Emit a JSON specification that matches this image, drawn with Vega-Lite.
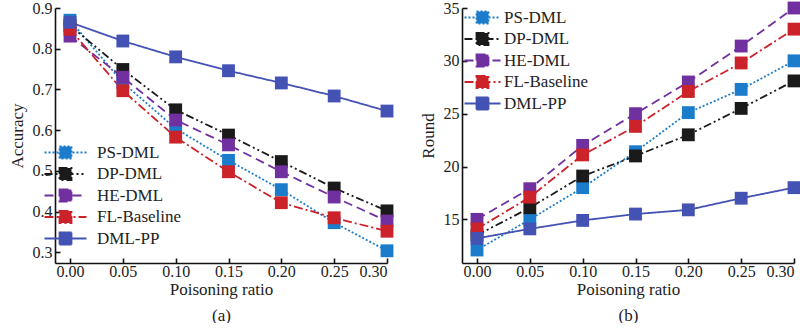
{
  "$schema": "https://vega.github.io/schema/vega-lite/v6.json",
  "autosize": {"type": "pad"},
  "padding": {"left": 8, "top": 0, "right": 0, "bottom": 0},
  "background": "white",
  "config": {
    "font": "Liberation Serif",
    "view": {"stroke": null},
    "axis": {
      "grid": false,
      "domainColor": "#111",
      "domainWidth": 1.6,
      "tickColor": "#111",
      "tickWidth": 1.6,
      "tickSize": -5,
      "labelFont": "Liberation Serif",
      "labelFontSize": 16,
      "labelColor": "#222",
      "titleFont": "Liberation Serif",
      "titleFontSize": 17,
      "titleFontWeight": "normal",
      "titleColor": "#222"
    },
    "axisX": {"labelPadding": 5, "titlePadding": 2, "titleLineHeight": 26},
    "axisY": {"labelPadding": 8, "titlePadding": 6},
    "legend": {
      "orient": "none",
      "title": null,
      "padding": 0,
      "symbolSize": 144,
      "symbolStrokeWidth": 1.8,
      "labelFont": "Liberation Serif",
      "labelFontSize": 17,
      "labelColor": "#222",
      "rowPadding": 0.5
    }
  },
  "datasets": {
    "acc": [
      {"ratio": 0.0, "series": "PS-DML", "value": 0.870},
      {"ratio": 0.05, "series": "PS-DML", "value": 0.717},
      {"ratio": 0.1, "series": "PS-DML", "value": 0.604},
      {"ratio": 0.15, "series": "PS-DML", "value": 0.526},
      {"ratio": 0.2, "series": "PS-DML", "value": 0.454},
      {"ratio": 0.25, "series": "PS-DML", "value": 0.373},
      {"ratio": 0.3, "series": "PS-DML", "value": 0.304},
      {"ratio": 0.0, "series": "DP-DML", "value": 0.857},
      {"ratio": 0.05, "series": "DP-DML", "value": 0.749},
      {"ratio": 0.1, "series": "DP-DML", "value": 0.650},
      {"ratio": 0.15, "series": "DP-DML", "value": 0.588},
      {"ratio": 0.2, "series": "DP-DML", "value": 0.523},
      {"ratio": 0.25, "series": "DP-DML", "value": 0.458},
      {"ratio": 0.3, "series": "DP-DML", "value": 0.402},
      {"ratio": 0.0, "series": "HE-DML", "value": 0.831},
      {"ratio": 0.05, "series": "HE-DML", "value": 0.730},
      {"ratio": 0.1, "series": "HE-DML", "value": 0.625},
      {"ratio": 0.15, "series": "HE-DML", "value": 0.564},
      {"ratio": 0.2, "series": "HE-DML", "value": 0.498},
      {"ratio": 0.25, "series": "HE-DML", "value": 0.436},
      {"ratio": 0.3, "series": "HE-DML", "value": 0.377},
      {"ratio": 0.0, "series": "FL-Baseline", "value": 0.848},
      {"ratio": 0.05, "series": "FL-Baseline", "value": 0.697},
      {"ratio": 0.1, "series": "FL-Baseline", "value": 0.583},
      {"ratio": 0.15, "series": "FL-Baseline", "value": 0.498},
      {"ratio": 0.2, "series": "FL-Baseline", "value": 0.422},
      {"ratio": 0.25, "series": "FL-Baseline", "value": 0.385},
      {"ratio": 0.3, "series": "FL-Baseline", "value": 0.352},
      {"ratio": 0.0, "series": "DML-PP", "value": 0.865},
      {"ratio": 0.05, "series": "DML-PP", "value": 0.819},
      {"ratio": 0.1, "series": "DML-PP", "value": 0.780},
      {"ratio": 0.15, "series": "DML-PP", "value": 0.746},
      {"ratio": 0.2, "series": "DML-PP", "value": 0.716},
      {"ratio": 0.25, "series": "DML-PP", "value": 0.684},
      {"ratio": 0.3, "series": "DML-PP", "value": 0.647}
    ],
    "round": [
      {"ratio": 0.0, "series": "PS-DML", "value": 12.1},
      {"ratio": 0.05, "series": "PS-DML", "value": 15.0},
      {"ratio": 0.1, "series": "PS-DML", "value": 18.0},
      {"ratio": 0.15, "series": "PS-DML", "value": 21.4},
      {"ratio": 0.2, "series": "PS-DML", "value": 25.1},
      {"ratio": 0.25, "series": "PS-DML", "value": 27.3},
      {"ratio": 0.3, "series": "PS-DML", "value": 30.0},
      {"ratio": 0.0, "series": "DP-DML", "value": 13.5},
      {"ratio": 0.05, "series": "DP-DML", "value": 16.1},
      {"ratio": 0.1, "series": "DP-DML", "value": 19.1},
      {"ratio": 0.15, "series": "DP-DML", "value": 21.0},
      {"ratio": 0.2, "series": "DP-DML", "value": 23.0},
      {"ratio": 0.25, "series": "DP-DML", "value": 25.5},
      {"ratio": 0.3, "series": "DP-DML", "value": 28.1},
      {"ratio": 0.0, "series": "HE-DML", "value": 15.0},
      {"ratio": 0.05, "series": "HE-DML", "value": 17.9},
      {"ratio": 0.1, "series": "HE-DML", "value": 22.0},
      {"ratio": 0.15, "series": "HE-DML", "value": 25.0},
      {"ratio": 0.2, "series": "HE-DML", "value": 28.0},
      {"ratio": 0.25, "series": "HE-DML", "value": 31.4},
      {"ratio": 0.3, "series": "HE-DML", "value": 35.0},
      {"ratio": 0.0, "series": "FL-Baseline", "value": 14.1},
      {"ratio": 0.05, "series": "FL-Baseline", "value": 17.1},
      {"ratio": 0.1, "series": "FL-Baseline", "value": 21.1},
      {"ratio": 0.15, "series": "FL-Baseline", "value": 23.8},
      {"ratio": 0.2, "series": "FL-Baseline", "value": 27.1},
      {"ratio": 0.25, "series": "FL-Baseline", "value": 29.8},
      {"ratio": 0.3, "series": "FL-Baseline", "value": 33.0},
      {"ratio": 0.0, "series": "DML-PP", "value": 13.2},
      {"ratio": 0.05, "series": "DML-PP", "value": 14.1},
      {"ratio": 0.1, "series": "DML-PP", "value": 14.9},
      {"ratio": 0.15, "series": "DML-PP", "value": 15.5},
      {"ratio": 0.2, "series": "DML-PP", "value": 15.9},
      {"ratio": 0.25, "series": "DML-PP", "value": 17.0},
      {"ratio": 0.3, "series": "DML-PP", "value": 18.0}
    ]
  },
  "spacing": 75,
  "bounds": "flush",
  "resolve": {"legend": {"color": "independent", "strokeDash": "independent", "fill": "independent"}},
  "hconcat": [
    {
      "width": 332,
      "height": 255,
      "data": {"name": "acc"},
      "encoding": {
        "x": {"field": "ratio", "type": "quantitative",
          "scale": {"domain": [-0.0142, 0.3], "nice": false, "zero": false},
          "axis": {"values": [0, 0.05, 0.1, 0.15, 0.2, 0.25, 0.3], "format": ".2f", "title": ["Poisoning ratio", "(a)"]}},
        "y": {"field": "value", "type": "quantitative",
          "scale": {"domain": [0.274, 0.9], "nice": false, "zero": false},
          "axis": {"values": [0.3, 0.4, 0.5, 0.6, 0.7, 0.8, 0.9], "format": ".1f", "title": "Accuracy"}},
        "color": {"field": "series", "type": "nominal",
          "scale": {"domain": ["PS-DML", "DP-DML", "HE-DML", "FL-Baseline", "DML-PP"], "range": ["#1c7ccc", "#1a1a1a", "#7030a0", "#cc2229", "#4352b3"]},
          "legend": {"legendX": 2, "legendY": 136, "symbolType": "M-3.5,0H3.5M-1,-1H1V1H-1Z", "labelOffset": 23}},
        "strokeDash": {"field": "series", "type": "nominal",
          "scale": {"domain": ["PS-DML", "DP-DML", "HE-DML", "FL-Baseline", "DML-PP"], "range": [[2, 2], [8, 3, 2, 3, 2, 3], [9, 5], [9, 3, 2, 3], [1, 0]]},
          "legend": {"legendX": 2, "legendY": 136, "symbolType": "M-3.5,0H3.5M-1,-1H1V1H-1Z", "labelOffset": 23}}
      },
      "layer": [
        {"mark": {"type": "line", "strokeWidth": 1.8}},
        {"mark": {"type": "point", "shape": "square", "filled": true, "size": 165, "opacity": 1},
         "encoding": {"fill": {"field": "series", "type": "nominal",
           "scale": {"domain": ["PS-DML", "DP-DML", "HE-DML", "FL-Baseline", "DML-PP"], "range": ["#1c7ccc", "#1a1a1a", "#7030a0", "#cc2229", "#4352b3"]},
           "legend": {"legendX": 2, "legendY": 136, "symbolType": "M-3.5,0H3.5M-1,-1H1V1H-1Z", "labelOffset": 23}}}}
      ]
    },
    {
      "width": 332,
      "height": 255,
      "data": {"name": "round"},
      "encoding": {
        "x": {"field": "ratio", "type": "quantitative",
          "scale": {"domain": [-0.0142, 0.3], "nice": false, "zero": false},
          "axis": {"values": [0, 0.05, 0.1, 0.15, 0.2, 0.25, 0.3], "format": ".2f", "title": ["Poisoning ratio", "(b)"]}},
        "y": {"field": "value", "type": "quantitative",
          "scale": {"domain": [10.87, 35], "nice": false, "zero": false},
          "axis": {"values": [15, 20, 25, 30, 35], "format": "d", "title": "Round"}},
        "color": {"field": "series", "type": "nominal",
          "scale": {"domain": ["PS-DML", "DP-DML", "HE-DML", "FL-Baseline", "DML-PP"], "range": ["#1c7ccc", "#1a1a1a", "#7030a0", "#cc2229", "#4352b3"]},
          "legend": {"legendX": 12, "legendY": 1, "symbolType": "M-3,0H3M-1,-1H1V1H-1Z", "labelOffset": 13}},
        "strokeDash": {"field": "series", "type": "nominal",
          "scale": {"domain": ["PS-DML", "DP-DML", "HE-DML", "FL-Baseline", "DML-PP"], "range": [[2, 2], [8, 3, 2, 3, 2, 3], [9, 5], [9, 3, 2, 3], [1, 0]]},
          "legend": {"legendX": 12, "legendY": 1, "symbolType": "M-3,0H3M-1,-1H1V1H-1Z", "labelOffset": 13}}
      },
      "layer": [
        {"mark": {"type": "line", "strokeWidth": 1.8}},
        {"mark": {"type": "point", "shape": "square", "filled": true, "size": 165, "opacity": 1},
         "encoding": {"fill": {"field": "series", "type": "nominal",
           "scale": {"domain": ["PS-DML", "DP-DML", "HE-DML", "FL-Baseline", "DML-PP"], "range": ["#1c7ccc", "#1a1a1a", "#7030a0", "#cc2229", "#4352b3"]},
           "legend": {"legendX": 12, "legendY": 1, "symbolType": "M-3,0H3M-1,-1H1V1H-1Z", "labelOffset": 13}}}}
      ]
    }
  ]
}
